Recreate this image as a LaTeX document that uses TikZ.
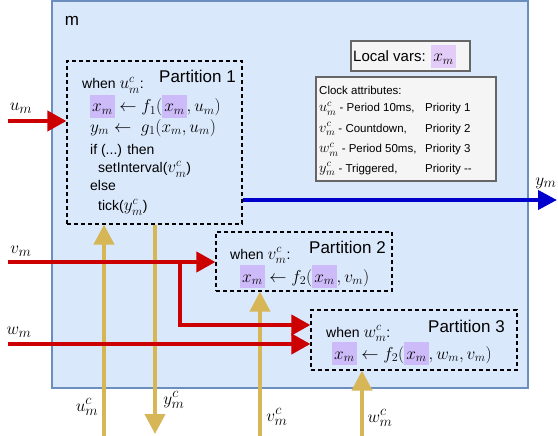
\documentclass[tikz,border=0pt]{standalone}
\usepackage[no-math]{fontspec}
\setmainfont{Liberation Sans}
\usetikzlibrary{arrows.meta}
\DeclareMathSizes{11.5}{15}{10}{7}
\DeclareMathSizes{14}{17}{12}{9}
\DeclareMathSizes{15}{17}{12}{9}
\DeclareMathSizes{16}{19}{14}{10}
\DeclareMathSizes{17}{19}{14}{10}
\definecolor{mfill}{HTML}{DAE8FC}
\definecolor{mdraw}{HTML}{6C8EBF}
\definecolor{sigred}{HTML}{CC0000}
\definecolor{sigblue}{HTML}{0000CC}
\definecolor{clkgold}{HTML}{D6B656}
\definecolor{hlpart}{HTML}{CCBBF8}
\definecolor{hllocal}{HTML}{E3CCF7}
\definecolor{attrfill}{HTML}{F5F5F5}
\definecolor{attrdraw}{HTML}{666666}
\newcommand{\hlvar}[2][hlpart]{{\setlength{\fboxsep}{2pt}\colorbox{#1}{$\rule[-4pt]{0pt}{19pt}#2$}}}
\tikzset{
  partbox/.style={draw, dashed, dash pattern=on 4pt off 3pt, line width=1.2pt},
  attrbox/.style={draw=attrdraw, fill=attrfill, line width=1.4pt},
  txt/.style={anchor=base west, inner sep=0pt, font=\fontsize{14}{17}\selectfont},
  title/.style={anchor=base west, inner sep=0pt, font=\fontsize{17}{20}\selectfont},
  siglabel/.style={inner sep=1pt, font=\fontsize{16}{19}\selectfont},
  sig/.style={draw=sigred, line width=4pt, -{Triangle[length=19pt,width=20pt]}},
  outsig/.style={draw=sigblue, line width=4pt, -{Triangle[length=19pt,width=19pt]}},
  clk/.style={draw=clkgold, line width=4pt, -{Triangle[length=20pt,width=20pt]}}
}
\begin{document}
\begin{tikzpicture}[x=1pt, y=-1pt]
  \useasboundingbox (0,0) rectangle (558,436);
  % component m
  \node[draw=mdraw, fill=mfill, line width=1.4pt, minimum width=476pt, minimum height=387pt] (mbox) at (290,194.5) {};
  \node[inner sep=0pt, font=\fontsize{17}{20}\selectfont] (mlab) at (72,21) {m};
  % partitions
  \node[partbox, minimum width=175pt, minimum height=163pt] (part1) at (154.5,142.5) {};
  \node[partbox, minimum width=176pt, minimum height=59pt] (part2) at (304,261.5) {};
  \node[partbox, minimum width=206pt, minimum height=60pt] (part3) at (414,340) {};
  \node[title] (p1title) at (159,83) {Partition 1};
  \node[txt] (p1when) at (82,89) {when $u^c_m$:};
  \node[txt] (p1f) at (90,112) {$\hlvar{x_m} \leftarrow f_1(\hlvar{x_m}, u_m)$};
  \node[txt] (p1g) at (90,132) {$y_m \leftarrow\; g_1(x_m, u_m)$};
  \node[txt] (p1if) at (90,154) {if (...) then};
  \node[txt] (p1set) at (98,173) {setInterval($v^c_m$)};
  \node[txt] (p1else) at (90,191) {else};
  \node[txt] (p1tick) at (98,211) {tick($y^c_m$)};
  \node[title] (p2title) at (309,254) {Partition 2};
  \node[txt] (p2when) at (230,259) {when $v^c_m$:};
  \node[txt] (p2f) at (240,282) {$\hlvar{x_m} \leftarrow f_2(\hlvar{x_m}, v_m)$};
  \node[title] (p3title) at (428,332) {Partition 3};
  \node[txt] (p3when) at (326,337) {when $w^c_m$:};
  \node[txt] (p3f) at (332,359) {$\hlvar{x_m} \leftarrow f_2(\hlvar{x_m}, w_m, v_m)$};
  % local variables and clock attributes
  \node[attrbox, minimum width=119pt, minimum height=30pt] (localbox) at (410.5,56) {};
  \node[txt, font=\fontsize{15}{18}\selectfont] (localtxt) at (353,62) {Local vars: \hlvar[hllocal]{x_m}};
  \node[attrbox, minimum width=180pt, minimum height=104pt] (attrs) at (406,129) {};
  \node[txt, font=\fontsize{11.5}{14}\selectfont] (attrhead) at (319,95) {Clock attributes:};
  \foreach \clkn/\desc/\prio/\yy in {u/{ - Period 10ms,}/1/112, v/{ - Countdown,}/2/132, w/{ - Period 50ms,}/3/153, y/{ - Triggered,}/{-{}-}/172}
    \node[txt, font=\fontsize{11.5}{14}\selectfont] (attr-\clkn) at (319,\yy) {\makebox[106pt][l]{$\clkn^c_m$\desc}Priority \prio};
  % clocks
  \coordinate (ucin) at (104,436);
  \coordinate (ycout) at (155,434);
  \coordinate (vcin) at (260,436);
  \coordinate (wcin) at (362,436);
  \draw[clk] (ucin) -- (ucin |- part1.south);
  \draw[clk] (ycout |- part1.south) -- (ycout);
  \draw[clk] (vcin) -- (vcin |- part2.south);
  \draw[clk] (wcin) -- (wcin |- part3.south);
  % signals
  \coordinate (uin) at (8,121);
  \coordinate (vin) at (8,262);
  \coordinate (vsplit) at (180,262);
  \coordinate (vbend) at (180,325);
  \coordinate (win) at (8,344);
  \coordinate (yout) at (557,200);
  \draw[sig] (uin) -- (uin -| part1.west);
  \draw[sig] (vin) -- (vin -| part2.west);
  \draw[sig] (vsplit) -- (vbend) -- (vbend -| part3.west);
  \draw[sig] (win) -- (win -| part3.west);
  \draw[outsig] (part1.east |- yout) -- (yout);
  % labels
  \node[siglabel] (ulab) at (21,108) {$u_m$};
  \node[siglabel] (vlab) at (21,251) {$v_m$};
  \node[siglabel] (wlab) at (19,332) {$w_m$};
  \node[siglabel] (ylab) at (546,183) {$y_m$};
  \node[siglabel] (uclab) at (87,407) {$u^c_m$};
  \node[siglabel, fill=white] (yclab) at (174,400) {$y^c_m$};
  \node[siglabel] (vclab) at (277,417) {$v^c_m$};
  \node[siglabel] (wclab) at (380,418) {$w^c_m$};
\end{tikzpicture}
\end{document}
